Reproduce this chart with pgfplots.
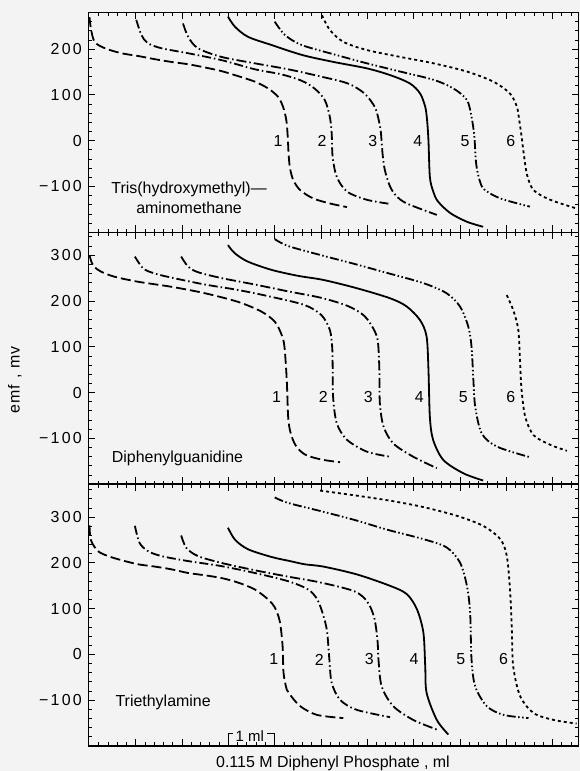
\documentclass[border=0pt]{standalone}
\usepackage{pgfplots}
\pgfplotsset{compat=1.18}
\usepackage{fontspec}
\setmainfont{Liberation Sans}
\definecolor{bg}{RGB}{243,243,243}
\tikzset{lab/.style={font=\fontsize{16}{18}\selectfont}}
\pgfplotsset{
  panel/.style={
    scale only axis, width=490.2bp, xmin=-0.026, xmax=10.56,
    xtick={1,2,...,10}, xticklabels={},
    minor xtick={0.2,0.4,...,10.4},
    tick align=inside, major tick length=7bp, minor tick length=3.5bp,
    axis line style={line width=1.5bp},
    tick style={black, line width=0.9bp},
    yticklabel style={font=\fontsize{16}{18}\selectfont\addfontfeatures{LetterSpace=14}, xshift=-3bp},
    axis background/.style={fill=bg},
  },
  c1/.style={black, line width=1.8bp, dash pattern=on 10bp off 4bp, smooth, tension=0.5},
  c2/.style={black, line width=1.8bp, dash pattern=on 9bp off 3bp on 1.5bp off 3bp, smooth, tension=0.5},
  c3/.style={black, line width=1.8bp, dash pattern=on 10bp off 3bp on 1.5bp off 3bp, smooth, tension=0.5},
  c4/.style={black, line width=1.8bp, smooth, tension=0.5},
  c5/.style={black, line width=1.8bp, dash pattern=on 9bp off 2.5bp on 1.5bp off 2.5bp on 1.5bp off 2.5bp, smooth, tension=0.5},
  c6/.style={black, line width=1.8bp, dash pattern=on 3bp off 3bp, smooth, tension=0.5},
}
\begin{document}
\begin{tikzpicture}
\fill[bg] (0,0) rectangle (580bp,771bp);
% ---------------- Panel 1 ----------------
\begin{axis}[panel, at={(88.3bp,538.7bp)}, anchor=south west, height=219.8bp,
  ymin=-200, ymax=280, ytick={-100,0,100,200}, yticklabels={−100,0,100,200},
  minor ytick={-180,-160,...,280}]
\addplot[c1] coordinates {(0.0,270) (0.03,245) (0.11,216) (0.33,202) (0.69,191) (1.05,185) (1.41,178) (1.77,172) (2.13,167) (2.49,160) (2.85,152) (3.21,141) (3.57,129) (3.86,114) (4.07,96) (4.18,74) (4.25,45) (4.28,10) (4.30,-30) (4.33,-60) (4.40,-86) (4.55,-108) (4.83,-126) (5.19,-137) (5.56,-145)};
\addplot[c2] coordinates {(1.01,264) (1.12,231) (1.26,213) (1.55,202) (2.13,191) (2.85,176) (3.57,156) (4.14,145) (4.58,131) (4.86,114) (5.08,89) (5.19,52) (5.23,16) (5.25,-35) (5.34,-79) (5.56,-111) (5.99,-129) (6.49,-138)};
\addplot[c3] coordinates {(2.02,256) (2.13,227) (2.34,202) (2.85,183) (3.57,169) (4.29,156) (5.0,140) (5.58,125) (5.94,103) (6.16,74) (6.23,52) (6.29,20) (6.33,-30) (6.38,-65) (6.49,-100) (6.62,-120) (6.85,-137) (7.5,-162)};
\addplot[c4] coordinates {(2.99,271) (3.14,249) (3.42,227) (3.93,209) (4.6,187) (5.27,172) (5.99,158) (6.5,143) (6.92,125) (7.14,103) (7.25,74) (7.29,45) (7.32,0) (7.35,-79) (7.42,-110) (7.52,-132) (7.79,-158) (8.15,-177) (8.5,-188)};
\addplot[c5] coordinates {(4.0,260) (4.22,231) (4.58,209) (5.3,188) (5.99,169) (6.71,151) (7.43,133) (7.86,114) (8.15,89) (8.25,52) (8.31,10) (8.35,-50) (8.42,-85) (8.52,-106) (8.87,-126) (9.51,-144)};
\addplot[c6] coordinates {(5.02,274) (5.19,242) (5.48,216) (5.99,198) (6.71,183) (7.43,169) (8.15,151) (8.72,129) (9.08,103) (9.23,74) (9.28,45) (9.33,10) (9.38,-30) (9.45,-75) (9.59,-108) (9.95,-129) (10.52,-148)};
\node[lab] at (axis cs:4.07,0) {1};
\node[lab] at (axis cs:5.02,0) {2};
\node[lab] at (axis cs:6.12,0) {3};
\node[lab] at (axis cs:7.09,0) {4};
\node[lab] at (axis cs:8.11,0) {5};
\node[lab] at (axis cs:9.10,0) {6};
\node[font=\fontsize{16}{20}\selectfont, align=center] at (axis cs:2.15,-124) {Tris(hydroxymethyl)—\\aminomethane};
\end{axis}
% ---------------- Panel 2 ----------------
\begin{axis}[panel, at={(88.3bp,286.8bp)}, anchor=south west, height=251.9bp,
  ymin=-200, ymax=350, ytick={-100,0,100,200,300}, yticklabels={−100,0,100,200,300},
  minor ytick={-180,-160,...,340}]
\addplot[c1] coordinates {(0.0,300) (0.05,283) (0.11,274) (0.25,264) (0.54,253) (1.05,242) (1.77,231) (2.49,217) (3.21,198) (3.71,177) (4.0,155) (4.15,126) (4.21,100) (4.26,27) (4.29,-53) (4.34,-87) (4.45,-115) (4.65,-135) (5.0,-146) (5.41,-152)};
\addplot[c2] coordinates {(0.98,297) (1.16,271) (1.41,260) (1.77,251) (2.49,236) (3.21,224) (3.93,209) (4.65,191) (5.01,169) (5.19,137) (5.24,100) (5.25,64) (5.26,-9) (5.34,-67) (5.56,-103) (5.99,-129) (6.49,-140)};
\addplot[c3] coordinates {(1.98,297) (2.13,275) (2.34,263) (2.85,250) (3.57,236) (4.29,221) (5.0,207) (5.58,189) (5.94,167) (6.16,134) (6.23,109) (6.26,49) (6.27,-23) (6.35,-74) (6.56,-111) (6.99,-140) (7.5,-165)};
\addplot[c4] coordinates {(2.99,322) (3.14,304) (3.42,286) (3.93,268) (4.5,255) (5.05,246) (5.77,228) (6.49,206) (6.85,188) (7.14,158) (7.28,122) (7.32,49) (7.35,-53) (7.42,-103) (7.64,-147) (8.07,-176) (8.5,-192)};
\addplot[c5] coordinates {(4.0,335) (4.29,320) (5.0,300) (5.72,281) (6.4,262) (7.21,239) (7.71,217) (8.0,188) (8.18,144) (8.25,100) (8.29,27) (8.33,-31) (8.47,-89) (8.8,-118) (9.51,-141)};
\addplot[c6] coordinates {(9.01,213) (9.15,180) (9.26,137) (9.3,64) (9.33,6) (9.41,-53) (9.59,-93) (9.95,-114) (10.31,-127)};
\node[lab] at (axis cs:4.04,-9) {1};
\node[lab] at (axis cs:5.05,-9) {2};
\node[lab] at (axis cs:6.02,-9) {3};
\node[lab] at (axis cs:7.12,-9) {4};
\node[lab] at (axis cs:8.07,-9) {5};
\node[lab] at (axis cs:9.10,-9) {6};
\node[lab] at (axis cs:1.9,-143) {Diphenylguanidine};
\end{axis}
% ---------------- Panel 3 ----------------
\begin{axis}[panel, at={(88.3bp,25bp)}, anchor=south west, height=261.8bp,
  ymin=-200, ymax=372, ytick={-100,0,100,200,300}, yticklabels={−100,0,100,200,300},
  minor ytick={-180,-160,...,360}]
\addplot[c1] coordinates {(0.0,282) (0.03,250) (0.18,226) (0.40,215) (0.69,206) (1.05,197) (1.41,192) (1.77,186) (2.13,178) (2.49,173) (2.85,167) (3.21,157) (3.57,142) (3.86,120) (4.0,103) (4.11,72) (4.17,18) (4.19,-40) (4.26,-77) (4.33,-88) (4.55,-113) (4.91,-132) (5.48,-139)};
\addplot[c2] coordinates {(0.98,281) (1.08,244) (1.26,226) (1.55,215) (2.13,204) (2.85,193) (3.57,178) (4.29,160) (4.72,142) (4.92,120) (5.05,85) (5.13,50) (5.18,-11) (5.23,-62) (5.41,-99) (5.77,-121) (6.49,-137)};
\addplot[c3] coordinates {(1.98,260) (2.09,233) (2.34,215) (2.85,200) (3.57,184) (4.29,170) (5.0,157) (5.72,138) (6.0,115) (6.15,80) (6.22,30) (6.24,-11) (6.31,-70) (6.56,-113) (6.99,-143) (7.5,-164)};
\addplot[c4] coordinates {(2.99,277) (3.14,251) (3.42,230) (3.93,213) (4.33,204) (4.65,197) (5.05,192) (5.77,175) (6.49,150) (6.85,132) (7.07,99) (7.21,48) (7.25,-26) (7.28,-84) (7.5,-143) (7.75,-175)};
\addplot[c5] coordinates {(4.0,343) (4.29,331) (5.0,313) (5.72,294) (6.45,272) (7.21,252) (7.71,234) (8.0,201) (8.15,150) (8.22,91) (8.25,-11) (8.33,-70) (8.58,-113) (8.94,-132) (9.48,-139)};
\addplot[c6] coordinates {(4.98,358) (5.77,347) (6.49,336) (7.21,322) (7.93,303) (8.5,281) (8.87,252) (9.01,216) (9.08,143) (9.12,55) (9.15,-26) (9.3,-91) (9.59,-128) (10.02,-143) (10.52,-151)};
\node[lab] at (axis cs:3.98,-11) {1};
\node[lab] at (axis cs:4.96,-11) {2};
\node[lab] at (axis cs:6.04,-11) {3};
\node[lab] at (axis cs:7.01,-11) {4};
\node[lab] at (axis cs:8.02,-11) {5};
\node[lab] at (axis cs:8.94,-11) {6};
\node[lab] at (axis cs:1.59,-105) {Triethylamine};
\draw[line width=0.9bp] (axis cs:3.0,-196) -- (axis cs:3.0,-172) -- (axis cs:3.09,-172);
\draw[line width=0.9bp] (axis cs:3.83,-172) -- (axis cs:4.0,-172) -- (axis cs:4.0,-196);
\node[font=\fontsize{15}{17}\selectfont] at (axis cs:3.46,-178) {1 ml};
\end{axis}
\node[font=\fontsize{16}{18}\selectfont\addfontfeatures{LetterSpace=8}, rotate=90] at (15bp,391bp) {emf , mv};
\node[font=\fontsize{16}{18}\selectfont] at (333bp,8bp) {0.115 M Diphenyl Phosphate , ml};
\pgfresetboundingbox
\path (0,0) rectangle (580bp,771bp);
\end{tikzpicture}
\end{document}
